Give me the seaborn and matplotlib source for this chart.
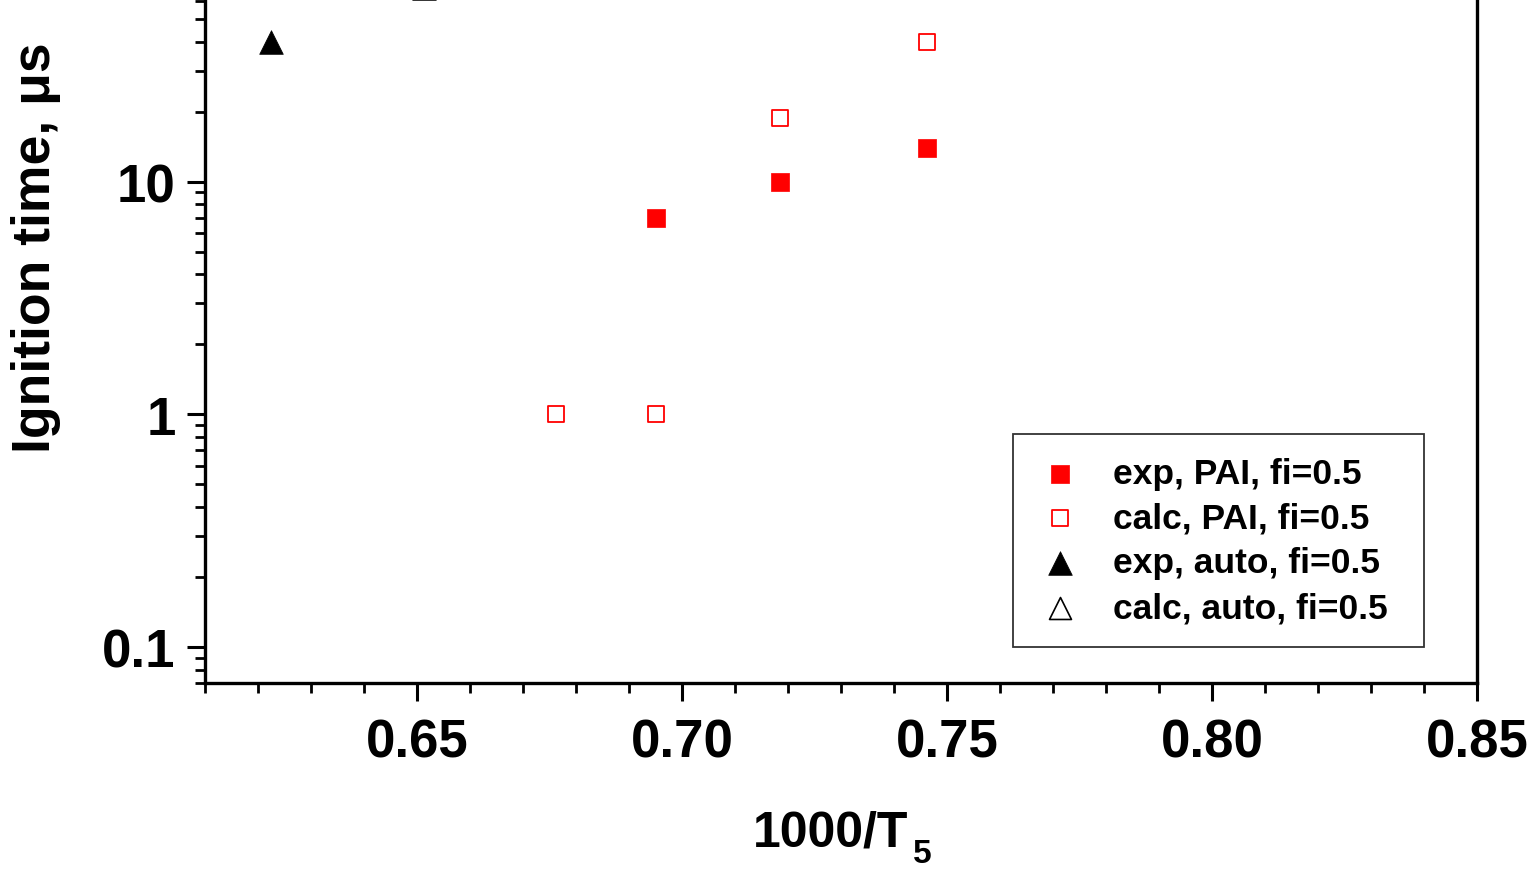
import matplotlib
matplotlib.use("Agg")
import matplotlib.pyplot as plt
import seaborn as sns
import pandas as pd
from matplotlib.ticker import FixedLocator, FormatStrFormatter, LogLocator, NullFormatter

# данные
exp_pai_x = [0.6951, 0.7185, 0.7462]
exp_pai_y = [7.0, 10.0, 14.0]
calc_pai_x = [0.6762, 0.6951, 0.7185, 0.7462]
calc_pai_y = [1.0, 1.0, 18.7, 40.0]
exp_auto_x = [0.6225, 0.6513]
exp_auto_y = [40.0, 68.0]

xticks = [0.65, 0.70, 0.75, 0.80, 0.85]
yticks = [0.1, 1, 10]
ytick_labels = ["0.1", "1", "10"]

sns.set_style("ticks")
plt.rcParams["font.family"] = ["Liberation Sans", "DejaVu Sans"]
plt.rcParams["font.weight"] = "bold"
for k in ["text.color", "axes.labelcolor", "xtick.color", "ytick.color", "axes.edgecolor"]:
    plt.rcParams[k] = "black"

fig = plt.figure(figsize=(15.36, 8.7), dpi=100)
ax = fig.add_axes([205 / 1536, 1 - 684 / 870, 1272 / 1536, 734 / 870])

df1 = pd.DataFrame({"x": exp_pai_x, "y": exp_pai_y})
df2 = pd.DataFrame({"x": calc_pai_x, "y": calc_pai_y})
df3 = pd.DataFrame({"x": exp_auto_x, "y": exp_auto_y})

sns.scatterplot(data=df1, x="x", y="y", marker="s", s=170, color="red",
                edgecolor="red", linewidth=0.5, label="exp, PAI, fi=0.5", ax=ax, clip_on=False)
sns.scatterplot(data=df2, x="x", y="y", marker="s", s=140, facecolor="white",
                edgecolor="red", linewidth=1.3, label="calc, PAI, fi=0.5", ax=ax, clip_on=False)
sns.scatterplot(data=df3, x="x", y="y", marker="^", s=290, color="black",
                edgecolor="black", linewidth=0.5, label="exp, auto, fi=0.5", ax=ax, clip_on=False)
ax.scatter([], [], marker="^", s=250, facecolor="white", edgecolor="black",
           linewidth=1.2, label="calc, auto, fi=0.5")

ax.set_yscale("log")
ax.set_xlim(0.61, 0.85)
ax.set_ylim(0.07, 100)

ax.xaxis.set_major_locator(FixedLocator(xticks))
ax.xaxis.set_major_formatter(FormatStrFormatter("%.2f"))
ax.xaxis.set_minor_locator(FixedLocator([0.61 + 0.01 * i for i in range(25)]))
ax.set_yticks(yticks)
ax.set_yticklabels(ytick_labels)
ax.yaxis.set_minor_locator(LogLocator(base=10, subs=range(2, 10)))
ax.yaxis.set_minor_formatter(NullFormatter())

ax.tick_params(axis="both", which="major", direction="out", length=13, width=2.2,
               labelsize=38)
ax.tick_params(axis="x", which="major", pad=12)
ax.tick_params(axis="y", which="major", pad=8)
ax.tick_params(axis="both", which="minor", direction="out", length=7, width=2)
ax.tick_params(axis="y", which="both", right=False)
ax.tick_params(axis="x", which="both", top=False)

for side in ["left", "bottom", "right", "top"]:
    ax.spines[side].set_linewidth(2.4)

ax.set_xlabel("1000/T", fontsize=36, fontweight="bold")
ax.xaxis.set_label_coords(0.492, -0.172)
ax.annotate("5", xy=(1, 0), xycoords=ax.xaxis.label, xytext=(3, -10),
            textcoords="offset points", fontsize=24, fontweight="bold",
            ha="left", va="bottom")
ax.set_ylabel("Ignition time, \u03bcs", fontsize=38.5, fontweight="bold")
ax.yaxis.set_label_coords(-0.113, 0.594)

leg = ax.legend(loc="lower left", bbox_to_anchor=(0.6352, 0.049, 0.3231, 0.294),
                mode="expand", borderaxespad=0,
                fontsize=25.5, frameon=True, fancybox=False, edgecolor="black",
                handlelength=1.36, handletextpad=0.82, labelspacing=0.33, borderpad=0.65)
leg.get_frame().set_linewidth(1.3)
for t in leg.get_texts():
    t.set_fontweight("bold")

fig.savefig("out.png", dpi=100)
